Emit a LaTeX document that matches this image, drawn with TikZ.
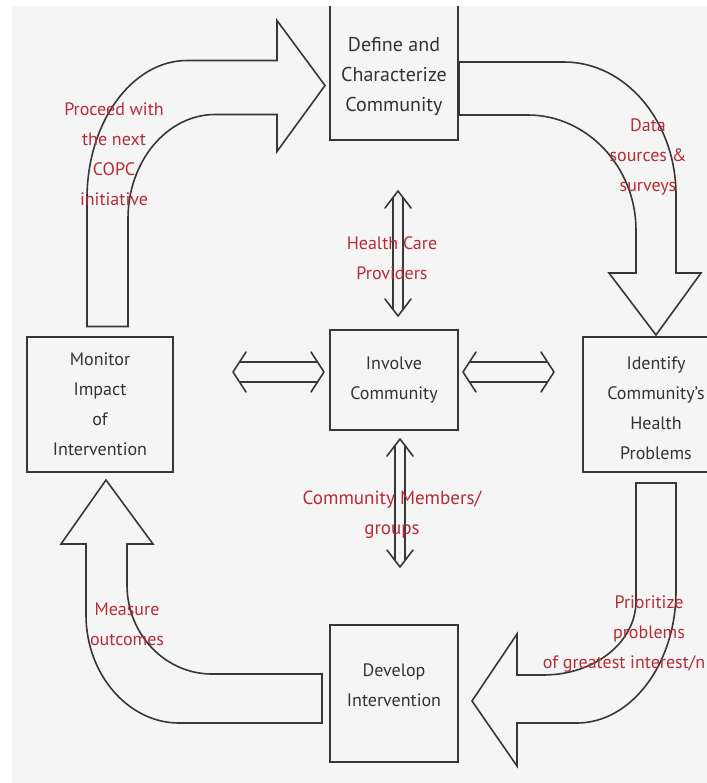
\documentclass[tikz,border=0pt]{standalone}
\usepackage{fontspec}
\setmainfont{PT Sans}
\usetikzlibrary{calc}

\definecolor{bggray}{RGB}{245,245,245}
\definecolor{linegray}{RGB}{55,55,55}
\definecolor{labelred}{RGB}{180,45,55}

\begin{document}
\begin{tikzpicture}[x=0.5pt,y=-0.5pt,
    stagebox/.style={draw=linegray, line width=1pt, align=center, inner sep=0pt,
        text=black!80, font=\fontsize{9}{15}\selectfont},
    bigarrow/.style={draw=linegray, line width=0.8pt, fill=bggray},
    sidearrow/.style={draw=linegray, line width=0.8pt, line join=round, to path={
        -- ($(\tikztostart)+(13,-20)$) -- ($(\tikztostart)+(6.5,-10)$)
        -- ($(\tikztotarget)+(-6.5,-10)$) -- ($(\tikztotarget)+(-13,-20)$)
        -- (\tikztotarget)
        -- ($(\tikztotarget)+(-13,20)$) -- ($(\tikztotarget)+(-6.5,10)$)
        -- ($(\tikztostart)+(6.5,10)$) -- ($(\tikztostart)+(13,20)$) -- cycle}},
    updownarrow/.style={draw=linegray, line width=0.8pt, line join=round, to path={
        -- ($(\tikztostart)+(13,17)$) -- ($(\tikztostart)+(5,6.5)$)
        -- ($(\tikztotarget)+(5,-6.5)$) -- ($(\tikztotarget)+(13,-17)$)
        -- (\tikztotarget)
        -- ($(\tikztotarget)+(-13,-17)$) -- ($(\tikztotarget)+(-5,-6.5)$)
        -- ($(\tikztostart)+(-5,6.5)$) -- ($(\tikztostart)+(-13,17)$) -- cycle}},
    redlabel/.style={text=labelred, align=center, font=\fontsize{9}{15}\selectfont}]

    % Page and background
    \useasboundingbox (0,0) rectangle (707,783);
    \fill[white] (0,0) rectangle (707,783);
    \clip (12,6) rectangle (707,783);
    \fill[bggray] (12,6) rectangle (707,783);

    % The five stages
    \node[stagebox, minimum width=64pt, minimum height=68pt, text height=42pt,
        font=\fontsize{10}{15}\selectfont] (def) at (394,72)
        {Define and\\Characterize\\Community};
    \node[stagebox, minimum width=73pt, minimum height=67.5pt] (mon) at (100,404)
        {Monitor\\Impact\\of\\Intervention};
    \node[stagebox, minimum width=64pt, minimum height=50pt] (inv) at (394,380)
        {Involve\\Community};
    \node[stagebox, minimum width=73pt, minimum height=67.5pt, text height=55.5pt] (ide) at (656,404.5)
        {Identify\\Community's\\Health\\Problems};
    \node[stagebox, minimum width=64pt, minimum height=68.5pt, text depth=8pt] (dev) at (394,693.5)
        {Develop\\Intervention};

    % Big curved arrow: monitor -> define
    \draw[bigarrow] ($(mon.north)+(-13,-9)$) -- ++(0,-128)
        .. controls +(0,-76) and +(-55,0) .. ++(100,-138)
        -- ++(90,0) -- ++(0,-40) -- ++(48,65) -- ++(-48,66) -- ++(0,-37) -- ++(-62,0)
        .. controls +(-48,0) and +(0,-57) .. ++(-87,104)
        -- ++(0,108) -- cycle;

    % Big curved arrow: define -> identify
    \draw[bigarrow] ($(def.east)+(0,-10)$) -- ++(105,0)
        .. controls +(62,0) and +(0,-73) .. ++(112,133)
        -- ++(0,78) -- ++(25,0) -- ++(-45,62) -- ++(-47,-62) -- ++(27,0) -- ++(0,-43)
        .. controls +(0,-63) and +(59,0) .. ++(-108,-115)
        -- ++(-69,0) -- cycle;

    % Big curved arrow: identify -> develop
    \draw[bigarrow] ($(ide.south)+(-20,10)$) -- ++(40,0) -- ++(0,108)
        .. controls +(0,73) and +(54,0) .. ++(-99,132)
        -- ++(-60,0) -- ++(0,43) -- ++(-45,-65) -- ++(45,-67) -- ++(0,41) -- ++(26,0)
        .. controls +(52,0) and +(0,41) .. ++(93,-74)
        -- cycle;

    % Big curved arrow: develop -> monitor
    \draw[bigarrow] ($(dev.west)+(-7,29.5)$) -- ++(-143,0)
        .. controls +(-51,0) and +(0,59) .. ++(-93,-108)
        -- ++(0,-71) -- ++(-25,0) -- ++(45,-64) -- ++(47,64) -- ++(-26,0) -- ++(0,41)
        .. controls +(0,49) and +(-47,0) .. ++(85,89)
        -- ++(110,0) -- cycle;

    % End points of the double arrows round the centre box
    \coordinate (lefttip) at ($(mon.east)+(59,-32)$);
    \coordinate (leftin) at ($(inv.west)+(-5,-8)$);
    \coordinate (rightin) at ($(inv.east)+(4,-8)$);
    \coordinate (righttip) at ($(ide.west)+(-28,-32.5)$);
    \coordinate (toptip) at ($(def.south)+(4,50)$);
    \coordinate (topin) at ($(inv.north)+(4,-13)$);
    \coordinate (botin) at ($(inv.south)+(6,8)$);
    \coordinate (bottip) at ($(dev.north)+(6,-57)$);

    % Double arrows
    \draw[sidearrow] (lefttip) to (leftin);
    \draw[sidearrow] (rightin) to (righttip);
    \draw[updownarrow] (toptip) to (topin);
    \draw[updownarrow] (botin) to (bottip);

    % Red labels
    \node[redlabel] (proc) at (114,154) {Proceed with\\the next\\COPC\\initiative};
    \node[redlabel] (data) at (648,157) {Data\\sources \&\\surveys};
    \node[redlabel] (hcp) at (392,258) {Health Care\\Providers};
    \node[redlabel, font=\fontsize{9.5}{15}\selectfont] (cmg) at (392,515) {Community Members/\\groups};
    \node[redlabel] (meas) at (127,624) {Measure\\outcomes};
    \node[redlabel] (prio) at (649,634) {Prioritize\\problems\\of greatest interest/n\hspace*{25pt}};
\end{tikzpicture}
\end{document}
